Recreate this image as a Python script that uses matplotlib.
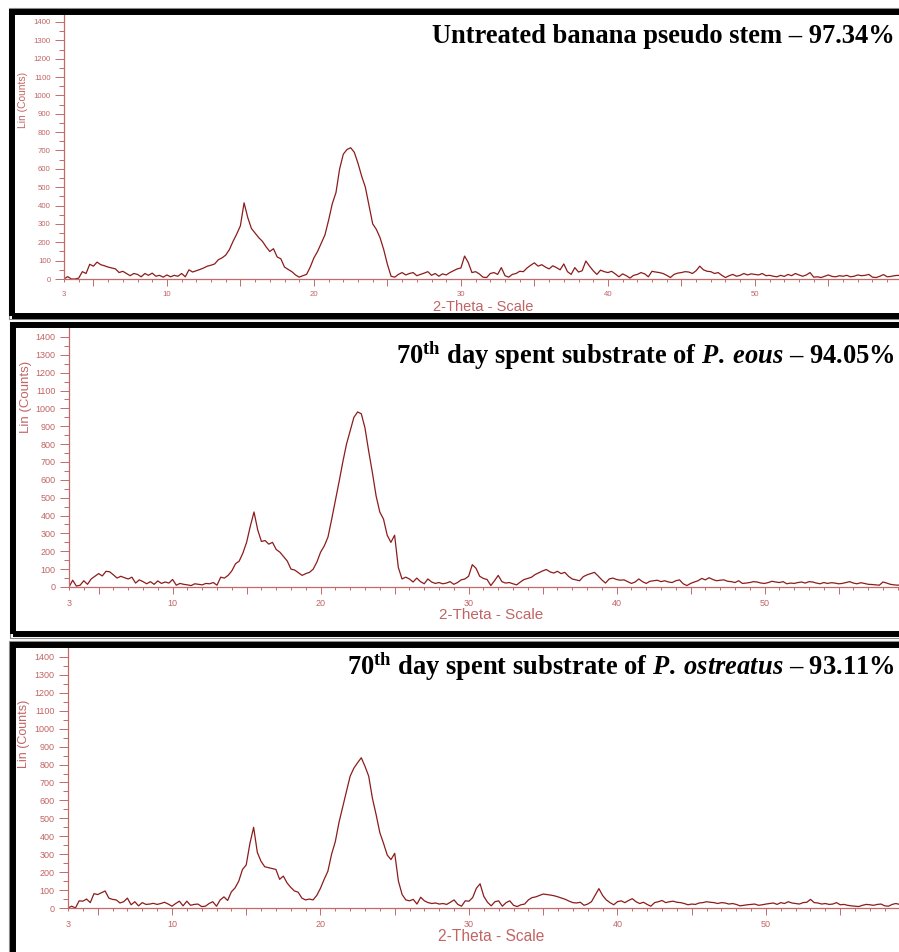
import numpy as np
import matplotlib
matplotlib.use('Agg')
import matplotlib.pyplot as plt
from matplotlib.patches import Rectangle

W, H = 899, 952

# diffractometer step grid (2-theta, degrees)
two_theta = np.arange(3, 60.001, 0.25)

# Lin (Counts), 8 steps (2 degrees) per row
untreated = [
    0, 13, 0, 0, 5, 40, 30, 80,              # 3
    70, 92, 78, 72, 65, 60, 55, 35,          # 5
    42, 30, 18, 30, 25, 12, 30, 20,          # 7
    32, 15, 20, 10, 22, 12, 20, 15,          # 9
    30, 12, 50, 38, 45, 52, 60, 70,          # 11
    75, 82, 105, 115, 130, 160, 205, 245,    # 13
    290, 415, 335, 275, 250, 225, 205, 175,  # 15
    150, 165, 120, 110, 65, 52, 40, 22,      # 17
    10, 18, 25, 65, 115, 150, 195, 240,      # 19
    320, 410, 470, 600, 680, 705, 715, 690,  # 21
    630, 560, 500, 400, 300, 270, 225, 160,  # 23
    80, 15, 10, 25, 35, 22, 30, 35,          # 25
    18, 25, 32, 40, 20, 30, 15, 28,          # 27
    22, 35, 45, 55, 60, 125, 90, 35,         # 29
    40, 28, 10, 8, 30, 35, 25, 62,           # 31
    18, 10, 25, 30, 42, 40, 60, 75,          # 33
    88, 70, 78, 65, 55, 72, 62, 50,          # 35
    82, 40, 25, 62, 38, 45, 98, 70,          # 37
    45, 25, 48, 40, 35, 42, 28, 12,          # 39
    28, 18, 5, 20, 25, 35, 28, 12,           # 41
    42, 38, 35, 30, 20, 8, 25, 32,           # 43
    35, 40, 38, 30, 45, 70, 50, 42,          # 45
    40, 30, 35, 20, 8, 18, 25, 15,           # 47
    20, 30, 22, 28, 25, 22, 30, 18,          # 49
    20, 15, 12, 20, 14, 25, 18, 30,          # 51
    22, 15, 22, 35, 10, 12, 8, 15,           # 53
    22, 14, 12, 18, 15, 20, 12, 15,          # 55
    22, 18, 20, 25, 10, 8, 15, 24,           # 57
    12, 14, 18, 20, 15,                      # 59
]

p_eous = [
    0, 38, 5, 10, 35, 15, 45, 60,            # 3
    75, 62, 88, 85, 68, 50, 60, 52,          # 5
    45, 55, 22, 40, 30, 18, 30, 15,          # 7
    34, 20, 28, 22, 42, 10, 20, 15,          # 9
    12, 8, 18, 15, 12, 20, 18, 25,           # 11
    10, 55, 50, 65, 90, 130, 145, 190,       # 13
    250, 340, 420, 320, 255, 260, 240, 250,  # 15
    210, 195, 170, 145, 100, 95, 80, 65,     # 17
    75, 82, 100, 140, 195, 230, 280, 380,    # 19
    485, 590, 700, 800, 875, 950, 980, 970,  # 21
    890, 760, 640, 510, 420, 380, 290, 250,  # 23
    290, 110, 45, 55, 45, 28, 50, 30,        # 25
    18, 45, 28, 20, 25, 18, 22, 30,          # 27
    15, 25, 40, 45, 60, 125, 105, 60,        # 29
    48, 42, 8, 35, 65, 30, 22, 25,           # 31
    18, 12, 28, 42, 48, 55, 70, 80,          # 33
    90, 98, 85, 78, 88, 75, 82, 60,          # 35
    45, 40, 35, 58, 68, 75, 82, 62,          # 37
    40, 22, 45, 50, 42, 38, 40, 30,          # 39
    20, 28, 45, 30, 20, 32, 35, 38,          # 41
    30, 35, 28, 25, 35, 40, 18, 8,           # 43
    20, 28, 35, 48, 40, 52, 42, 35,          # 45
    38, 40, 32, 30, 25, 35, 20, 22,          # 47
    25, 30, 28, 22, 20, 25, 32, 28,          # 49
    25, 30, 18, 22, 20, 25, 28, 22,          # 51
    30, 28, 22, 18, 25, 20, 24, 22,          # 53
    18, 20, 25, 30, 22, 18, 24, 20,          # 55
    15, 14, 12, 10, 28, 22, 15, 12,          # 57
    10, 14, 12, 15, 12,                      # 59
]

p_ostreatus = [
    0, 10, 0, 40, 38, 50, 30, 80,            # 3
    75, 85, 95, 55, 48, 45, 28, 35,          # 5
    55, 18, 35, 12, 30, 20, 22, 26,          # 7
    20, 25, 32, 22, 10, 25, 38, 12,          # 9
    38, 15, 20, 22, 8, 10, 25, 35,           # 11
    10, 45, 62, 42, 90, 112, 150, 215,       # 13
    240, 360, 450, 310, 260, 230, 225, 220,  # 15
    215, 160, 178, 140, 115, 95, 88, 55,     # 17
    45, 50, 45, 70, 110, 160, 205, 300,      # 19
    370, 478, 565, 650, 735, 780, 810, 838,  # 21
    790, 735, 612, 520, 420, 360, 295, 270,  # 23
    305, 150, 75, 45, 40, 48, 22, 60,        # 25
    40, 30, 25, 28, 22, 25, 20, 32,          # 27
    45, 20, 10, 40, 38, 58, 110, 135,        # 29
    65, 32, 12, 35, 40, 10, 30, 40,          # 31
    15, 8, 18, 22, 45, 58, 62, 70,           # 33
    78, 75, 72, 68, 62, 55, 48, 38,          # 35
    30, 28, 32, 15, 22, 35, 72, 108,         # 37
    70, 45, 30, 18, 35, 40, 30, 42,          # 39
    52, 35, 25, 32, 20, 10, 30, 35,          # 41
    42, 30, 35, 38, 32, 30, 25, 18,          # 43
    22, 20, 28, 30, 35, 32, 30, 25,          # 45
    30, 28, 22, 25, 20, 12, 15, 18,          # 47
    20, 22, 15, 18, 22, 25, 28, 20,          # 49
    30, 25, 35, 28, 25, 22, 30, 32,          # 51
    48, 30, 28, 22, 25, 20, 22, 30,          # 53
    18, 20, 15, 12, 10, 8, 15, 20,           # 55
    18, 15, 20, 22, 12, 10, 20, 25,          # 57
    20, 15, 18, 20, 18,                      # 59
]

titles = [
    'Untreated banana pseudo stem \u2013 97.34%',
    r'70$^{\mathrm{th}}$ day spent substrate of $\mathit{P.\:eous}$' + ' \u2013 94.05%',
    r'70$^{\mathrm{th}}$ day spent substrate of $\mathit{P.\:ostreatus}$' + ' \u2013 93.11%',
]

x_labelled = [10, 20, 30, 40, 50]
y_ticks = list(range(0, 1401, 100))

LINE = '#8c1c1c'
AXIS = '#c46a6a'
TEXT = '#c26464'

plt.rcParams['mathtext.fontset'] = 'custom'
plt.rcParams['mathtext.rm'] = 'Liberation Serif:bold'
plt.rcParams['mathtext.it'] = 'Liberation Serif:bold:italic'
plt.rcParams['font.family'] = 'Liberation Sans'

fig = plt.figure(figsize=(W / 100, H / 100), dpi=100)


def fx(x):
    return x / W


def fy(y):
    return 1 - y / H


# panel geometry in pixels: y-axis x, zero line y, spine top y, px per degree, px per count
panels = [
    dict(x0=64, y0=279, ytop=15, sx=14.70, sy=0.1836, tsize=5.6, lsize=7.4, xlsize=10.5,
         ylab_off=41, ylab_val=975, title_y=43, border=(12, 12, 316)),
    dict(x0=69, y0=587, ytop=328, sx=14.80, sy=0.1786, tsize=6.5, lsize=9.5, xlsize=11,
         ylab_off=43, ylab_val=1064, title_y=364, border=(13, 325.5, 634)),
    dict(x0=68, y0=908, ytop=647, sx=14.85, sy=0.1793, tsize=6.5, lsize=9.0, xlsize=11.2,
         ylab_off=44, ylab_val=970, title_y=675, border=(12.5, 644.5, 960)),
]
series = [untreated, p_eous, p_ostreatus]

for p, counts, title in zip(panels, series, titles):
    width = 57 * p['sx']
    ax = fig.add_axes([fx(p['x0']), fy(p['y0']), width / W, (p['y0'] - p['ytop']) / H])
    ax.set_facecolor('none')
    ax.plot(two_theta, counts, color=LINE, lw=0.9)
    ax.set_xlim(3, 60)
    ax.set_ylim(0, (p['y0'] - p['ytop']) / p['sy'])

    for side in ['top', 'right']:
        ax.spines[side].set_visible(False)
    for side in ['left', 'bottom']:
        ax.spines[side].set_color(AXIS)
        ax.spines[side].set_linewidth(0.9)

    # long ticks every 5 degrees, short ticks every degree
    major_x = list(range(5, 61, 5))
    ax.set_xticks(major_x, labels=[str(v) if v in x_labelled else '' for v in major_x])
    minor_x = [v for v in range(3, 60) if v % 5 != 0]
    ax.set_xticks(minor_x, labels=['3' if v == 3 else '' for v in minor_x], minor=True)
    ax.set_yticks(y_ticks)
    ax.set_yticks(list(range(50, 1401, 100)), minor=True)

    ax.tick_params(axis='x', which='major', direction='out', length=4.8, width=0.7,
                   color=AXIS, labelcolor=TEXT, labelsize=p['tsize'], pad=3.6)
    ax.tick_params(axis='x', which='minor', direction='out', length=2.4, width=0.7,
                   color=AXIS, labelcolor=TEXT, labelsize=p['tsize'], pad=6.0)
    ax.tick_params(axis='y', which='major', direction='out', length=6.5, width=0.7,
                   color=AXIS, labelcolor=TEXT, labelsize=p['tsize'], pad=3.0)
    ax.tick_params(axis='y', which='minor', direction='out', length=3.6, width=0.7,
                   color=AXIS)

    ax.annotate('2-Theta - Scale', xy=(0.5, 0), xycoords='axes fraction',
                xytext=(0, -20.5), textcoords='offset points', ha='center', va='center',
                color=TEXT, fontsize=p['xlsize'])
    ax.annotate('Lin (Counts)', xy=(3, p['ylab_val']), xycoords='data',
                xytext=(-p['ylab_off'] * 0.72, 0), textcoords='offset points',
                ha='center', va='center', rotation=90, color=TEXT, fontsize=p['lsize'],
                annotation_clip=False)

    fig.text(fx(895), fy(p['title_y']), title, ha='right', va='baseline',
             fontsize=19.1, fontweight='bold', family='Liberation Serif', color='black')

    # framed box round each pattern, open at the right edge
    bx, btop, bbot = p['border']
    fig.add_artist(Rectangle((fx(bx - 3.5), fy(bbot + 3.5)), (W + 20 - bx) / W,
                             (bbot - btop + 7) / H, transform=fig.transFigure,
                             fill=False, edgecolor='#8a8a8a', lw=0.8))
    fig.add_artist(Rectangle((fx(bx), fy(bbot)), (W + 20 - bx) / W, (bbot - btop) / H,
                             transform=fig.transFigure, fill=False, edgecolor='black',
                             lw=4.3))

fig.savefig('out.png', dpi=100)
